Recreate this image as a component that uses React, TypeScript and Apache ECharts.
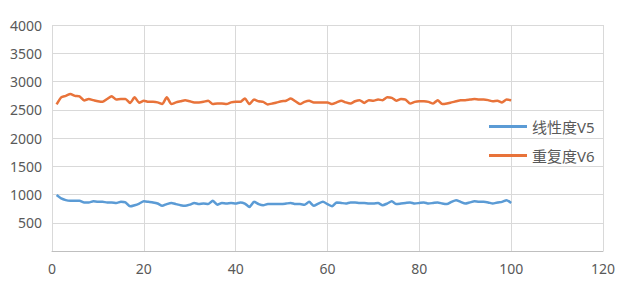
import React, { useEffect, useRef } from "react";
import * as echarts from "echarts";

const xValues: number[] = Array.from({ length: 100 }, (_, i) => i + 1);

const linearityV5: number[] = [
  990, 930, 900, 890, 890, 890, 860, 860, 880, 870,
  870, 860, 860, 850, 870, 860, 790, 810, 840, 880,
  870, 860, 840, 800, 830, 850, 830, 810, 800, 820,
  850, 830, 840, 830, 890, 820, 850, 840, 850, 840,
  860, 840, 780, 870, 830, 810, 830, 830, 830, 830,
  840, 850, 830, 830, 820, 870, 800, 840, 870, 830,
  790, 860, 850, 840, 860, 860, 850, 850, 840, 840,
  850, 810, 840, 880, 830, 840, 850, 860, 840, 850,
  860, 840, 850, 860, 840, 830, 870, 900, 870, 840,
  860, 880, 870, 870, 860, 840, 860, 870, 900, 850,
];

const repeatabilityV6: number[] = [
  2595, 2720, 2745, 2780, 2745, 2735, 2665, 2690, 2670, 2650,
  2640, 2690, 2740, 2680, 2690, 2690, 2620, 2720, 2625, 2660,
  2640, 2640, 2630, 2600, 2720, 2600, 2630, 2650, 2670, 2650,
  2630, 2630, 2640, 2660, 2600, 2610, 2610, 2600, 2630, 2640,
  2640, 2700, 2600, 2680, 2650, 2640, 2595, 2610, 2630, 2650,
  2660, 2700, 2650, 2600, 2640, 2660, 2630, 2630, 2630, 2630,
  2600, 2630, 2660, 2630, 2610, 2650, 2670, 2620, 2670, 2660,
  2680, 2670, 2720, 2710, 2660, 2690, 2680, 2610, 2640, 2650,
  2650, 2640, 2610, 2670, 2600, 2610, 2630, 2650, 2670, 2670,
  2680, 2690, 2680, 2680, 2670, 2650, 2660, 2630, 2680, 2670,
];

const seriesNames: string[] = ["线性度V5", "重复度V6"];
const seriesColors: string[] = ["#5B9BD5", "#E8733A"];

export default function App() {
  const ref = useRef<HTMLDivElement>(null);

  useEffect(() => {
    document.body.style.margin = "0";
    if (!ref.current) return;
    const chart = echarts.init(ref.current, null, { renderer: "svg" });
    const labelFont = "'Noto Sans', 'Noto Sans CJK SC', sans-serif";
    const allSeries = [linearityV5, repeatabilityV6];
    chart.setOption({
      animation: false,
      backgroundColor: "#ffffff",
      grid: { left: 52, right: 19, top: 25, bottom: 36, containLabel: false },
      legend: {
        orient: "vertical",
        left: 484,
        top: 114,
        itemWidth: 38,
        itemHeight: 3,
        itemGap: 14,
        icon: "rect",
        textStyle: { color: "#595959", fontSize: 15, fontFamily: labelFont },
        data: seriesNames,
      },
      xAxis: {
        type: "value",
        min: 0,
        max: 120,
        interval: 20,
        axisLine: { show: true, lineStyle: { color: "#bfbfbf", width: 1 } },
        axisTick: { show: false },
        splitLine: { show: true, lineStyle: { color: "#d9d9d9", width: 1 } },
        axisLabel: { color: "#595959", fontSize: 14, fontFamily: labelFont, margin: 10 },
      },
      yAxis: {
        type: "value",
        min: 0,
        max: 4000,
        interval: 500,
        axisLine: { show: false },
        axisTick: { show: false },
        splitLine: { show: true, lineStyle: { color: "#d9d9d9", width: 1 } },
        axisLabel: {
          color: "#595959",
          fontSize: 14,
          fontFamily: labelFont,
          margin: 10,
          formatter: (v: number) => (v === 0 ? "" : String(v)),
        },
      },
      series: allSeries.map((vals, si) => ({
        name: seriesNames[si],
        type: "line",
        showSymbol: false,
        symbol: "none",
        smooth: 0.2,
        color: seriesColors[si],
        lineStyle: { color: seriesColors[si], width: 2.5 },
        data: xValues.map((x, i) => [x, vals[i]]),
      })),
    });
    return () => chart.dispose();
  }, []);

  return <div ref={ref} style={{ width: 622, height: 287 }} />;
}
